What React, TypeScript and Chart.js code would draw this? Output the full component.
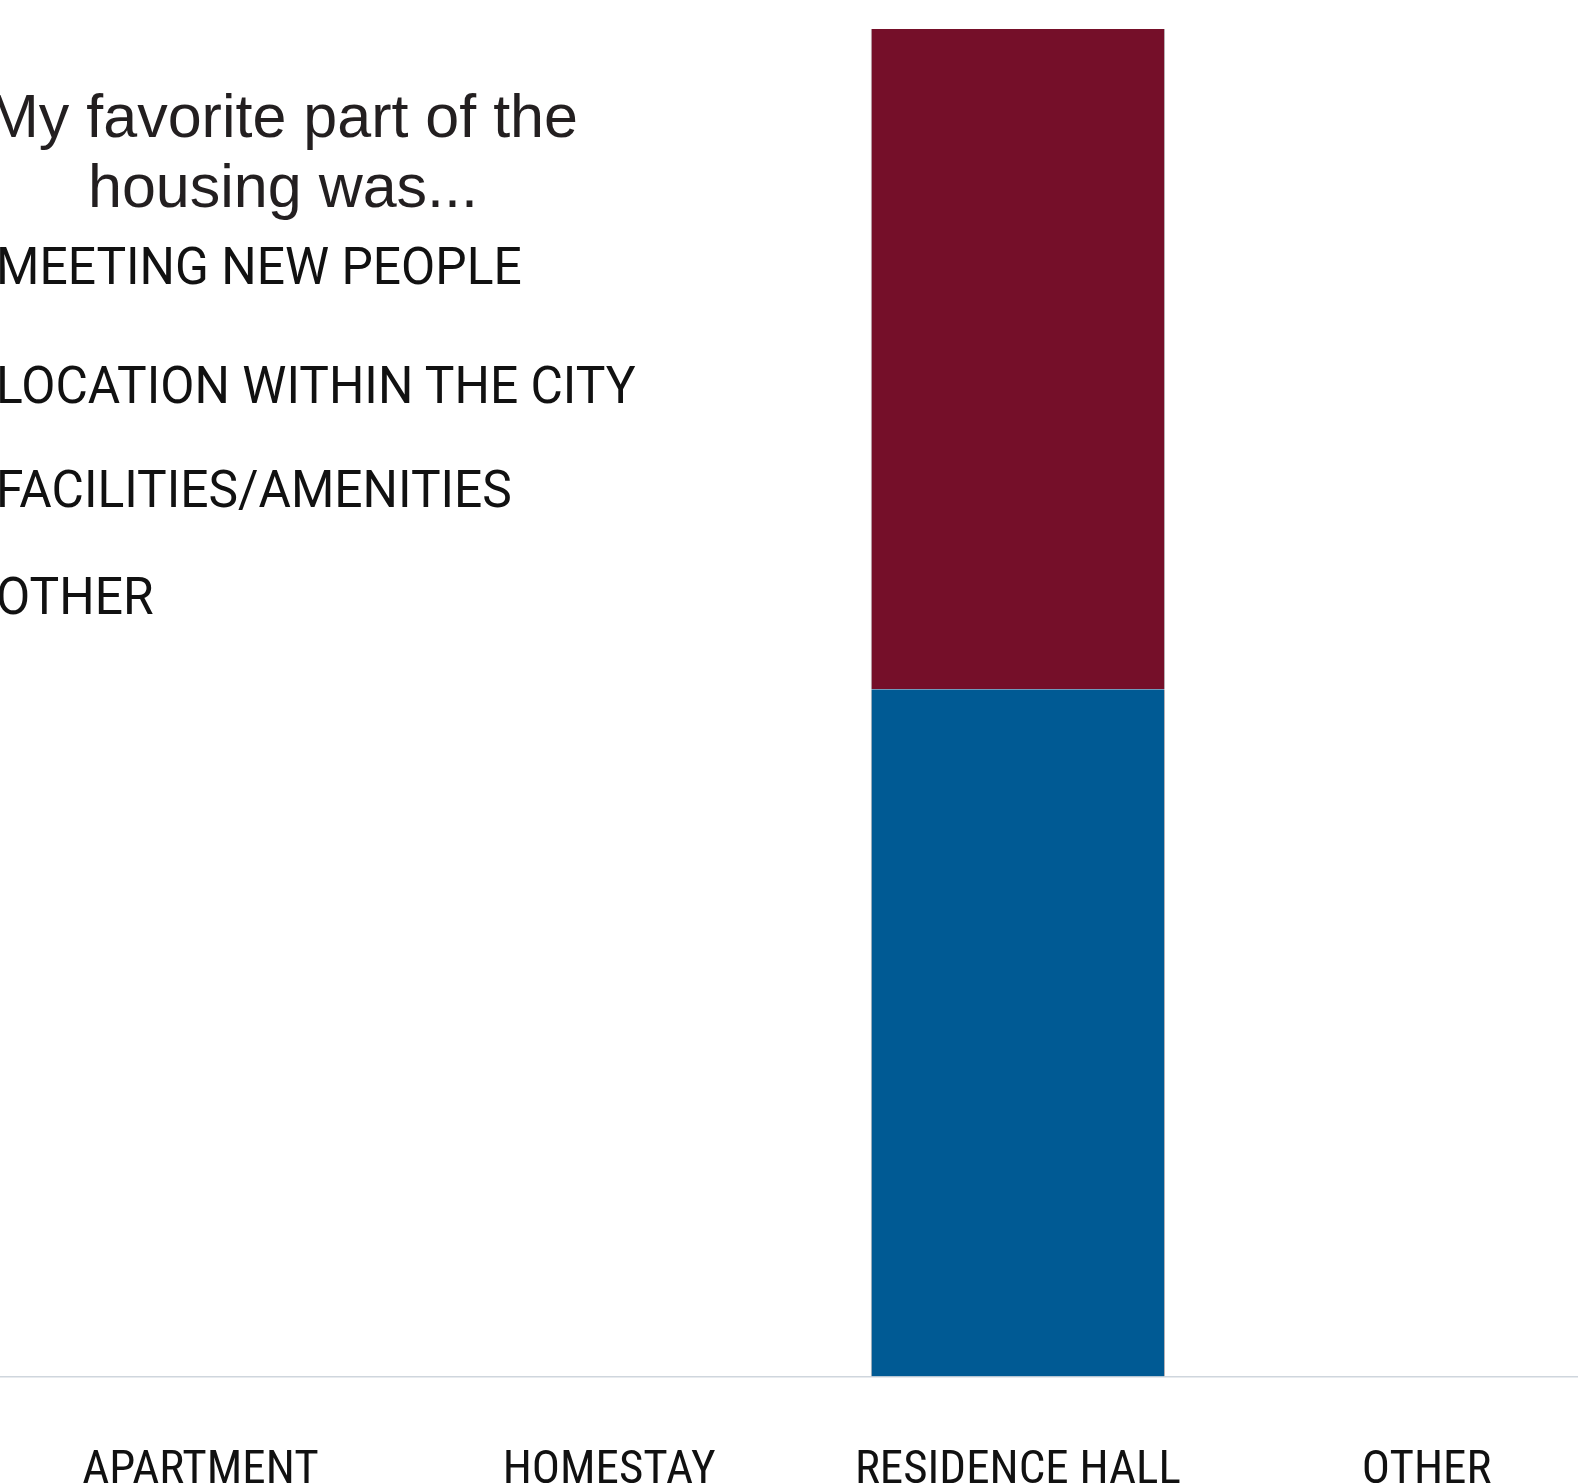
import React, { useEffect, useRef } from "react";
import { Chart, registerables } from "chart.js";

Chart.register(...registerables);

// ---- data ----
const CATEGORIES = ["APARTMENT", "HOMESTAY", "RESIDENCE HALL", "OTHER"];
const SERIES_NAMES = [
  "MEETING NEW PEOPLE",
  "LOCATION WITHIN THE CITY",
  "FACILITIES/AMENITIES",
  "OTHER",
];
const MEETING_NEW_PEOPLE = [0, 0, 51, 0];
const LOCATION_WITHIN_CITY = [0, 0, 49, 0];
const FACILITIES_AMENITIES = [0, 0, 0, 0];
const OTHER_REASON = [0, 0, 0, 0];
const SERIES_VALUES = [
  MEETING_NEW_PEOPLE,
  LOCATION_WITHIN_CITY,
  FACILITIES_AMENITIES,
  OTHER_REASON,
];
const SERIES_COLORS = ["#005a94", "#750f29", "#8a8d8f", "#c4a264"];
const TITLE_LINES = ["My favorite part of the", "housing was..."];
const Y_MAX = 100;

// ---- layout (not data) ----
const LEGEND_TOPS = [237, 356, 460, 567];

export default function App() {
  const canvasRef = useRef<HTMLCanvasElement | null>(null);

  useEffect(() => {
    if (!canvasRef.current) return;
    const chart = new Chart(canvasRef.current, {
      type: "bar",
      data: {
        labels: CATEGORIES,
        datasets: SERIES_NAMES.map((name, i) => ({
          label: name,
          data: SERIES_VALUES[i],
          backgroundColor: SERIES_COLORS[i],
          borderColor: "#b9b4b6",
          borderWidth: { left: 1, right: 1, top: 0, bottom: 0 },
          borderSkipped: false,
        })),
      },
      options: {
        responsive: false,
        animation: false,
        devicePixelRatio: 1,
        layout: { padding: { left: 36, right: 49, top: 29, bottom: 0 } },
        plugins: {
          legend: { display: false },
          title: { display: false },
          tooltip: { enabled: false },
        },
        scales: {
          x: {
            stacked: true,
            grid: { display: false, drawTicks: false },
            border: { display: true, color: "#cfd6dd", width: 1.5 },
            ticks: {
              padding: 66,
              color: "#111111",
              font: {
                family: "Roboto, sans-serif",
                weight: "400 semi-condensed",
                size: 47,
                lineHeight: 1.2,
              },
              maxRotation: 0,
              autoSkip: false,
            },
          },
          y: {
            stacked: true,
            display: false,
            min: 0,
            max: Y_MAX,
          },
        },
      },
    });
    return () => chart.destroy();
  }, []);

  return (
    <div
      style={{
        position: "absolute",
        left: 0,
        top: 0,
        width: 1578,
        height: 1484,
        overflow: "hidden",
        background: "#ffffff",
      }}
    >
      <canvas
        ref={canvasRef}
        width={1720}
        height={1565}
        style={{ position: "absolute", left: -40, top: 0, width: 1720, height: 1565 }}
      />
      <div
        style={{
          position: "absolute",
          left: -67,
          top: 81,
          width: 700,
          textAlign: "center",
          fontFamily: '"Liberation Sans", Arial, sans-serif',
          fontSize: 61,
          lineHeight: "70px",
          color: "#231f20",
        }}
      >
        {TITLE_LINES.map((line, i) => (
          <div key={i}>{line}</div>
        ))}
      </div>
      {SERIES_NAMES.map((name, i) => (
        <div
          key={name}
          style={{
            position: "absolute",
            left: -44,
            top: LEGEND_TOPS[i],
            display: "flex",
            alignItems: "center",
            whiteSpace: "nowrap",
            fontFamily: "Roboto, sans-serif",
            fontSize: 51,
            lineHeight: "60px",
            color: "#111111",
          }}
        >
          <span
            style={{
              display: "inline-block",
              width: 30,
              height: 30,
              marginRight: 10,
              background: SERIES_COLORS[i],
            }}
          />
          <span
            style={{
              display: "inline-block",
              transform: "scaleX(0.975)",
              transformOrigin: "left center",
            }}
          >
            {name}
          </span>
        </div>
      ))}
    </div>
  );
}
